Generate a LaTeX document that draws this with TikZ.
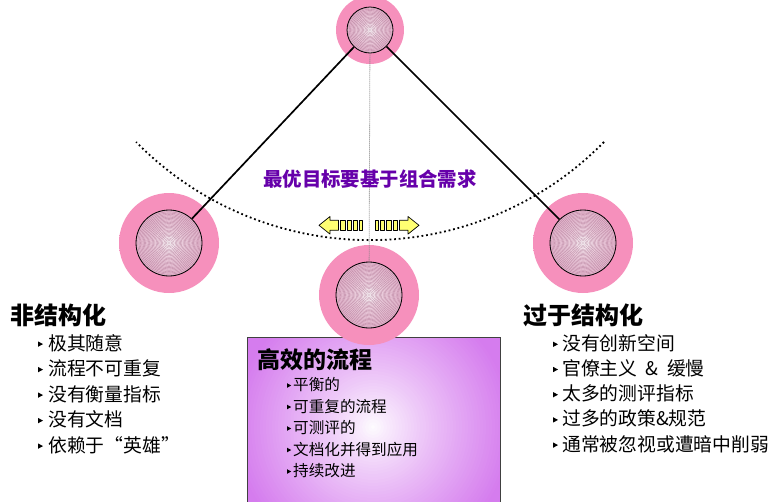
\documentclass[tikz,border=0pt]{standalone}
\usepackage{fontspec}
\setmainfont{Noto Sans CJK SC}

% colours
\definecolor{ringin}{HTML}{F690BC}
\definecolor{ringout}{HTML}{EE5A98}
\definecolor{coreout}{HTML}{D68CB2}
\definecolor{coreline}{HTML}{9A5A7C}
\definecolor{boxedge}{HTML}{D57CEE}
\definecolor{boxline}{HTML}{404040}
\definecolor{goal}{HTML}{6600AA}
\definecolor{arrowfill}{HTML}{FFFF72}

% shadings (radius 50bp = path radius)
\pgfdeclareradialshading{ringshade}{\pgfpoint{0bp}{0bp}}{color(0bp)=(ringin); color(33bp)=(ringin); color(43bp)=(ringin!50!ringout); color(50bp)=(ringout)}
\pgfdeclareradialshading{coreshade}{\pgfpoint{0bp}{0bp}}{color(0bp)=(white); color(8bp)=(white!65!coreout); color(50bp)=(coreout)}

\tikzset{
  ballring/.style={circle, inner sep=0pt, minimum size=#1, shading=ringshade},
  ballcore/.style={circle, inner sep=0pt, minimum size=#1, draw=black, line width=0.8pt,
    shading=coreshade,
    path picture={
      \foreach \r in {1.3,2.6,...,34}
        \draw[coreline, line width=0.4pt, opacity=0.55]
          (path picture bounding box.center) circle (\r);
    }},
  effbox/.style={rectangle, inner sep=0pt, minimum width=252pt, minimum height=166pt},
  boxborder/.style={draw=boxline, line width=0.9pt},
  pendline/.style={line width=1.7pt, black},
  plumb/.style={gray, line width=0.8pt, dash pattern=on 1pt off 1pt},
  dotarc/.style={line width=1.8pt, dash pattern=on 1.8pt off 2.8pt},
  stripe/.style={fill=arrowfill, draw=black, line width=0.7pt, line join=round},
  heading/.style={anchor=base west, inner sep=0pt, font=\fontsize{24}{26}\selectfont\bfseries},
  boxhead/.style={anchor=base west, inner sep=0pt, font=\fontsize{23}{25}\selectfont\bfseries},
  item/.style={anchor=base west, inner sep=0pt, font=\fontsize{18.8}{20}\selectfont},
  boxitem/.style={anchor=base west, inner sep=0pt, font=\fontsize{15.6}{17}\selectfont},
  goaltext/.style={anchor=base, inner sep=0pt, text=goal, font=\fontsize{19.4}{21}\selectfont\bfseries}
}

\begin{document}
\begin{tikzpicture}[x=1pt, y=-1pt]
\useasboundingbox (0,0) rectangle (776,501);

% central panel: violet with a soft white glow of concentric discs
\node[effbox] (effbox) at (374,421) {};
\begin{scope}
  \clip (effbox.south west) rectangle (effbox.north east);
  \fill[boxedge] (effbox.south west) rectangle (effbox.north east);
  \foreach \r in {152,149,...,1}{
    \pgfmathsetmacro\p{100*min(1,(\r/140)^0.85)}
    \fill[boxedge!\p!white] (373,427) circle (\r);
  }
\end{scope}
\draw[boxborder] (effbox.south west) rectangle (effbox.north east);

% pendulum balls: pink rings
\node[ballring=68pt]  (topring)   at (370,30)  {};
\node[ballring=100pt] (leftring)  at (169,243) {};
\node[ballring=100pt] (midring)   at (369,295) {};
\node[ballring=100pt] (rightring) at (583,243) {};

% pendulum balls: textured cores
\node[ballcore=46pt] (topcore)   at (370,30)  {};
\node[ballcore=66pt] (leftcore)  at (169,243) {};
\node[ballcore=66pt] (midcore)   at (369,295) {};
\node[ballcore=66pt] (rightcore) at (583,243) {};

% strings and plumb line
\draw[plumb] (topcore) -- (midcore);
\draw[pendline] (topcore) -- (leftcore);
\draw[pendline] (topcore) -- (rightcore);

% swing path
\draw[dotarc] (604,142) arc[start angle=44.5, end angle=135.5, radius=328];

% goal caption
\node[goaltext] (goal) at (370,186) {最优目标要基于组合需求};

% striped double arrow, left half
\draw[stripe] (319,225.3) -- (330,216.5) -- (330,220.3) -- (338.5,220.3) -- (338.5,230.3)
  -- (330,230.3) -- (330,234.1) -- cycle;
\draw[stripe] (340.5,220.3) rectangle (345,230.3);
\draw[stripe] (347,220.3) rectangle (351.5,230.3);
\draw[stripe] (353.5,220.3) rectangle (357.5,230.3);
\draw[stripe] (359.5,220.3) rectangle (362.5,230.3);
% right half
\draw[stripe] (419,225.3) -- (408,216.5) -- (408,220.3) -- (399.5,220.3) -- (399.5,230.3)
  -- (408,230.3) -- (408,234.1) -- cycle;
\draw[stripe] (393,220.3) rectangle (397.5,230.3);
\draw[stripe] (386.5,220.3) rectangle (391,230.3);
\draw[stripe] (380.5,220.3) rectangle (384.5,230.3);
\draw[stripe] (375.5,220.3) rectangle (378.5,230.3);

% left column
\node[heading] (lefthead) at (10,324) {非结构化};
\foreach \t [count=\i from 0] in {极其随意,流程不可重复,没有衡量指标,没有文档,依赖于“英雄”}{
  \node[item] (left\i) at (48,350.1+25.5*\i) {\t};
  \fill (38,341.4+25.5*\i) -- ++(5,2.7) -- ++(-5,2.7) -- cycle;
}

% right column
\node[heading] (righthead) at (523,324) {过于结构化};
\foreach \t [count=\i from 0] in {没有创新空间,官僚主义\hspace{0.45em}\&\hspace{0.45em}缓慢,太多的测评指标,过多的政策\&规范,通常被忽视或遭暗中削弱}{
  \node[item] (right\i) at (562,350.2+25.2*\i) {\t};
  \fill (553,341.6+25.2*\i) -- ++(5,2.7) -- ++(-5,2.7) -- cycle;
}

% panel contents
\node[boxhead] (boxhead) at (257,368.5) {高效的流程};
\foreach \t [count=\i from 0] in {平衡的,可重复的流程,可测评的,文档化并得到应用,持续改进}{
  \node[boxitem] (mid\i) at (293,390.9+21.5*\i) {\t};
  \fill (287,383.2+21.5*\i) -- ++(4.2,2.3) -- ++(-4.2,2.3) -- cycle;
}
\end{tikzpicture}
\end{document}
